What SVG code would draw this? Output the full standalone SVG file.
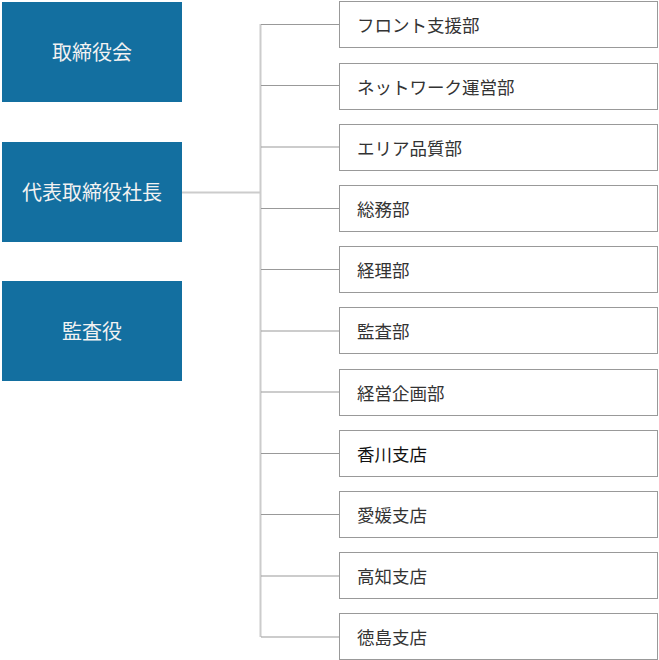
<svg xmlns="http://www.w3.org/2000/svg" width="659" height="660" viewBox="0 0 659 660">
<style>
.exec rect{fill:#136fa0}
.exec text{fill:#f2f2f2;font-family:"Noto Sans CJK JP","Noto Sans CJK SC",sans-serif;font-size:20px;text-anchor:middle;dominant-baseline:central}
.dept rect{fill:#fff;stroke:#999;stroke-width:1}
.dept text{fill:#333;font-family:"Noto Sans CJK JP","Noto Sans CJK SC",sans-serif;font-size:17.5px;dominant-baseline:central}
.trunk{stroke:#ccc;stroke-width:2;fill:none}
.branch{stroke:#999;stroke-width:1;fill:none}
</style>
<rect width="659" height="660" fill="#fff"/>
<g id="connectors">
<path class="trunk" d="M182 192.5H260.5M260.5 24V637"/>
<path class="branch" d="M261 24.5H339M261 85.5H339M261 147H339M261 208.5H339M261 269.5H339M261 331H339M261 392H339M261 453.5H339M261 514.5H339M261 576H339M261 637H339"/>
</g>
<g id="n-board" class="exec"><rect x="2" y="2" width="180" height="100"/><text x="92" y="51">取締役会</text></g>
<g id="n-president" class="exec"><rect x="2" y="142" width="180" height="100"/><text x="92" y="191">代表取締役社長</text></g>
<g id="n-auditor" class="exec"><rect x="2" y="281" width="180" height="100"/><text x="92" y="330">監査役</text></g>
<g id="d1" class="dept"><rect x="339.5" y="1.5" width="318" height="46"/><text x="357" y="24.5">フロント支援部</text></g>
<g id="d2" class="dept"><rect x="339.5" y="63.5" width="318" height="46"/><text x="357" y="86.5">ネットワーク運営部</text></g>
<g id="d3" class="dept"><rect x="339.5" y="124.5" width="318" height="46"/><text x="357" y="147.5">エリア品質部</text></g>
<g id="d4" class="dept"><rect x="339.5" y="185.5" width="318" height="46"/><text x="357" y="208.5">総務部</text></g>
<g id="d5" class="dept"><rect x="339.5" y="246.5" width="318" height="46"/><text x="357" y="269.5">経理部</text></g>
<g id="d6" class="dept"><rect x="339.5" y="307.5" width="318" height="46"/><text x="357" y="330.5">監査部</text></g>
<g id="d7" class="dept"><rect x="339.5" y="369.5" width="318" height="46"/><text x="357" y="392.5">経営企画部</text></g>
<g id="d8" class="dept"><rect x="339.5" y="430.5" width="318" height="46"/><text x="357" y="453.5" style="fill:#111">香川支店</text></g>
<g id="d9" class="dept"><rect x="339.5" y="491.5" width="318" height="46"/><text x="357" y="514.5">愛媛支店</text></g>
<g id="d10" class="dept"><rect x="339.5" y="552.5" width="318" height="46"/><text x="357" y="575.5">高知支店</text></g>
<g id="d11" class="dept"><rect x="339.5" y="613.5" width="318" height="46"/><text x="357" y="636.5">徳島支店</text></g>
</svg>
